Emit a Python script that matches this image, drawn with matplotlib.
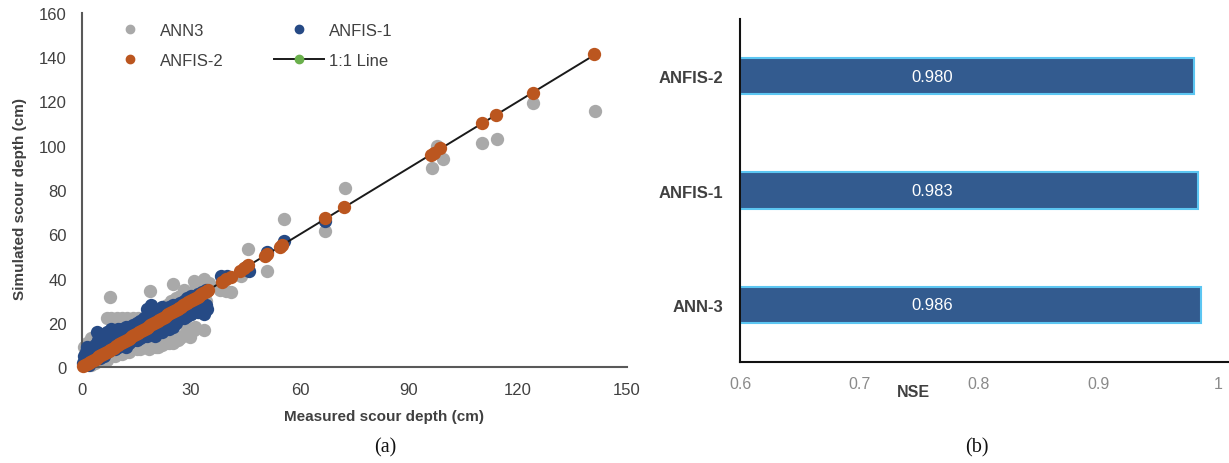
import matplotlib
matplotlib.use("Agg")
import matplotlib.pyplot as plt
from matplotlib.lines import Line2D

plt.rcParams['font.family'] = ['Liberation Sans', 'DejaVu Sans']

# ---------------- Data: panel (a) ----------------
ann3_obs = [0.5, 0.8, 1.0, 1.5, 2.0, 2.5, 3.0, 3.5, 4.0, 4.5, 5.0, 5.5, 6.0, 6.5, 7.0, 7.8, 8.0, 8.5,
            9.0, 9.5, 10.0, 10.5, 11.0, 11.5, 12.0, 12.5, 13.0, 13.5, 14.0, 14.5, 15.0, 15.5, 16.0,
            16.5, 17.0, 17.5, 18.0, 18.5, 18.8, 19.0, 19.5, 20.0, 20.5, 21.0, 21.5, 22.0, 22.5, 23.0,
            23.5, 24.0, 24.5, 25.0, 25.5, 26.0, 26.5, 27.0, 27.5, 28.0, 28.5, 29.0, 29.7, 30.0, 30.8,
            30.8, 31.5, 32.0, 33.0, 33.7, 33.7, 34.0, 35.0,
            7.0, 9.0, 11.0, 13.0, 15.0, 17.0, 19.0, 21.0, 23.0, 25.0, 27.0, 29.0, 31.0, 22.0, 26.0,
            3.0, 1.5, 0.5, 2.5,
            38.0, 39.5, 41.0, 43.8, 45.8, 51.0, 55.6, 67.0, 72.3, 96.4, 97.6, 99.3, 110.0, 114.3,
            124.0, 141.3]
ann3_sim = [3, 6, 8, 10, 4, 1, 9, 2, 11, 6, 3, 12, 8, 5, 22, 31.5, 22, 14,
            6, 22, 20, 8, 22, 12, 7, 22, 20, 9, 22, 18, 10, 22, 8,
            20, 9, 22, 11, 8, 34.5, 23, 10, 22, 9, 9, 25, 10, 23, 12,
            28, 11, 30, 37.5, 13, 30, 12, 32, 14, 35, 18, 33, 13.5, 24, 39,
            16.5, 36, 25, 37, 39.8, 16.5, 30, 38,
            3, 5, 6, 7, 8, 9, 9, 10, 11, 11, 13, 15, 18, 27, 31,
            12, 11, 9, 13,
            35, 34.5, 33.8, 41.3, 53.3, 43.5, 66.8, 61.5, 81, 90, 100, 93.8, 101.4, 102.9,
            119.4, 115.6]

anfis1_obs = [0.3, 0.5, 1.0, 1.0, 1.5, 2.0, 2.0, 2.5, 3.0, 3.5, 4.0, 4.0, 4.5, 5.0, 5.0, 5.5, 6.0,
              6.0, 6.5, 7.0, 7.0, 7.5, 8.0, 8.0, 8.5, 9.0, 9.0, 9.5, 10.0, 10.0, 10.5, 11.0, 11.0,
              11.5, 12.0, 12.0, 12.5, 13.0, 13.0, 13.5, 14.0, 14.0, 14.5, 15.0, 15.0, 15.5, 16.0,
              16.0, 16.5, 17.0, 17.0, 17.5, 18.0, 18.0, 18.5, 19.0, 19.0, 19.5, 20.0, 20.0, 20.5,
              21.0, 21.0, 21.5, 22.0, 22.0, 22.5, 23.0, 23.0, 23.5, 24.0, 24.0, 24.5, 25.0, 25.0,
              25.5, 26.0, 26.0, 26.5, 27.0, 27.0, 27.5, 28.0, 28.0, 28.5, 29.0, 29.0, 30.0, 30.0,
              31.0, 31.0, 32.0, 32.0, 33.0, 33.0, 33.5, 34.0, 34.0, 34.5,
              38.3, 40.0, 46.0, 45.0, 51.0, 55.6, 67.0]
anfis1_sim = [2, 5, 7, 3, 9, 5, 1, 8, 3, 10, 16, 6, 12, 14, 4, 9, 15,
              5, 11, 16, 7, 13, 17, 8, 12, 16, 8, 14, 17, 9, 13, 17, 10,
              15, 18, 9, 14, 18, 11, 16, 19, 12, 15, 20, 12, 17, 21,
              13, 18, 22, 14, 19, 26, 14, 21, 28, 15, 22, 25, 14, 18,
              24, 16, 20, 27, 16, 21, 26, 18, 22, 27, 17, 23, 28, 18,
              22, 28, 20, 24, 29, 22, 25, 30, 22, 26, 31, 23, 32, 24,
              32, 26, 33, 25, 34, 28, 24, 35, 28, 26,
              41.3, 41, 43.5, 45, 52, 57, 66]

anfis2_obs = [0.3, 0.8, 1.3, 1.8, 2.3, 2.8, 3.3, 3.8, 4.3, 4.8, 5.3, 5.8, 6.3, 6.8, 7.3, 7.8, 8.3,
              8.8, 9.3, 9.8, 10.3, 10.8, 11.3, 11.8, 12.3, 12.8, 13.3, 13.8, 14.3, 14.8, 15.3, 15.8,
              16.3, 16.8, 17.3, 17.8, 18.3, 18.8, 19.3, 19.8, 20.3, 20.8, 21.3, 21.8, 22.3, 22.8,
              23.3, 23.8, 24.3, 24.8, 25.3, 25.8, 26.3, 26.8, 27.3, 27.8, 28.3, 28.8, 29.3, 29.8,
              30.3, 30.8, 31.3, 31.8, 32.3, 32.8, 33.3, 33.8, 34.3, 34.8,
              38.5, 39.5, 41.0, 43.5, 44.5, 45.8, 50.5, 51.0, 54.5, 55.0, 67.0, 72.0, 96.0, 97.0,
              98.5, 110.0, 114.0, 124.0, 141.0]
anfis2_sim = [0.3, 0.8, 1.3, 1.8, 2.3, 2.8, 3.3, 3.8, 4.3, 4.8, 5.3, 5.8, 6.3, 6.8, 7.3, 7.8, 8.3,
              8.8, 9.3, 9.8, 10.3, 10.8, 11.3, 11.8, 12.3, 12.8, 13.3, 13.8, 14.3, 14.8, 15.3, 15.8,
              16.3, 16.8, 17.3, 17.8, 18.3, 18.8, 19.3, 19.8, 20.3, 20.8, 21.3, 21.8, 22.3, 22.8,
              23.3, 23.8, 24.3, 24.8, 25.3, 25.8, 26.3, 26.8, 27.3, 27.8, 28.3, 28.8, 29.3, 29.8,
              30.3, 30.8, 31.3, 31.8, 32.3, 32.8, 33.3, 33.8, 34.3, 34.8,
              38.2, 39.6, 40.8, 43.4, 44.6, 45.9, 50.3, 51.2, 54.4, 55.1, 67.2, 72.1, 95.8, 96.8,
              98.8, 110.2, 114.1, 124.0, 141.3]

line_x = [0, 141]
line_y = [0, 141]

x_ticks_a = [0, 30, 60, 90, 120, 150]
y_ticks_a = [0, 20, 40, 60, 80, 100, 120, 140, 160]

# ---------------- Data: panel (b) ----------------
models = ['ANN-3', 'ANFIS-1', 'ANFIS-2']
nse = [0.986, 0.983, 0.980]
nse_labels = ['0.986', '0.983', '0.980']
x_ticks_b = [0.6, 0.7, 0.8, 0.9, 1.0]
x_ticklabels_b = ['0.6', '0.7', '0.8', '0.9', '1']

# ---------------- Figure ----------------
W, H = 1229, 464
fig = plt.figure(figsize=(W / 100, H / 100), dpi=100)

def fx(px):
    return px / W

def fy(py):
    return 1 - py / H

GRAY = '#a9a9a9'
BLUE = '#264a85'
ORANGE = '#bb561f'
DARK = '#404040'

# Panel (a)
axa = fig.add_axes([fx(82), fy(368), fx(627) - fx(82), fy(14) - fy(368)])
s = 92
axa.scatter(ann3_obs, ann3_sim, s=s, color=GRAY, linewidths=0, zorder=2, label='ANN3')
axa.scatter(anfis1_obs, anfis1_sim, s=s, color=BLUE, linewidths=0, zorder=3, label='ANFIS-1')
axa.plot(line_x, line_y, color='#1a1a1a', lw=1.4, marker='o', markersize=6,
         markerfacecolor='#6ab04c', markeredgecolor='#6ab04c', zorder=4)
axa.scatter(anfis2_obs, anfis2_sim, s=s, color=ORANGE, linewidths=0, zorder=5, label='ANFIS-2')

axa.set_xlim(0, 150)
axa.set_ylim(0, 160)
axa.set_xticks(x_ticks_a)
axa.set_yticks(y_ticks_a)
axa.tick_params(length=0, labelsize=12, colors=DARK, pad=11)
for sp in ['top', 'right']:
    axa.spines[sp].set_visible(False)
for sp in ['left', 'bottom']:
    axa.spines[sp].set_color('#595959')
    axa.spines[sp].set_linewidth(1.5)
for coll in axa.collections:
    coll.set_clip_on(False)

h_ann3 = Line2D([], [], ls='none', marker='o', markersize=6, color=GRAY)
h_anfis1 = Line2D([], [], ls='none', marker='o', markersize=6, color=BLUE)
h_anfis2 = Line2D([], [], ls='none', marker='o', markersize=6, color=ORANGE)
h_line = Line2D([], [], color='#1a1a1a', lw=1.4, marker='o', markersize=6,
                markerfacecolor='#6ab04c', markeredgecolor='#6ab04c')
leg = axa.legend([h_ann3, h_anfis2, h_anfis1, h_line], ['ANN3', 'ANFIS-2', 'ANFIS-1', '1:1 Line'],
                 ncol=2, loc='upper left', bbox_to_anchor=(0.042, 0.972), frameon=False,
                 fontsize=12, borderpad=0, borderaxespad=0, handlelength=3.0,
                 handletextpad=0.3, labelspacing=0.9, columnspacing=3.0)
for t in leg.get_texts():
    t.set_color(DARK)

fig.text(fx(384), fy(417), 'Measured scour depth (cm)', ha='center', va='center',
         fontsize=11, fontweight='bold', color=DARK)
fig.text(fx(20), fy(199), 'Simulated scour depth (cm)', ha='center', va='center',
         rotation=90, fontsize=11, fontweight='bold', color=DARK)
fig.text(fx(385), fy(448), '(a)', ha='center', va='center', fontsize=14.5,
         family=['Liberation Serif', 'DejaVu Serif'], color='#111111')

# Panel (b)
axb = fig.add_axes([fx(740), fy(363), fx(1218) - fx(740), fy(20) - fy(363)])
ypos = list(range(len(models)))
bars = axb.barh(ypos, [v - 0.6 for v in nse], left=0.6, height=0.32, color='#335b8f',
                edgecolor='#5cc6f2', linewidth=1.5, zorder=2)
for y, lab in zip(ypos, nse_labels):
    axb.text(0.761, y, lab, ha='center', va='center', color='white', fontsize=12, zorder=3)
axb.set_xlim(0.6, 1.0)
axb.set_ylim(-0.5, 2.5)
axb.set_yticks(ypos)
axb.set_yticklabels(models, fontweight='bold', fontsize=12, color=DARK)
axb.set_xticks(x_ticks_b)
axb.set_xticklabels(x_ticklabels_b)
axb.tick_params(axis='x', length=0, labelsize=11.5, colors='#8a8a8a', pad=10)
axb.tick_params(axis='y', length=0, pad=12)
for sp in ['top', 'right']:
    axb.spines[sp].set_visible(False)
for sp in ['left', 'bottom']:
    axb.spines[sp].set_color('#111111')
    axb.spines[sp].set_linewidth(1.5)
axb.spines['bottom'].set_bounds(0.6, 1.03)
axb.spines['bottom'].set_clip_on(False)

fig.text(fx(913), fy(393), 'NSE', ha='center', va='center', fontsize=11.5,
         fontweight='bold', color=DARK)
fig.text(fx(977), fy(448), '(b)', ha='center', va='center', fontsize=14.5,
         family=['Liberation Serif', 'DejaVu Serif'], color='#111111')

fig.savefig('out.png', dpi=100)
